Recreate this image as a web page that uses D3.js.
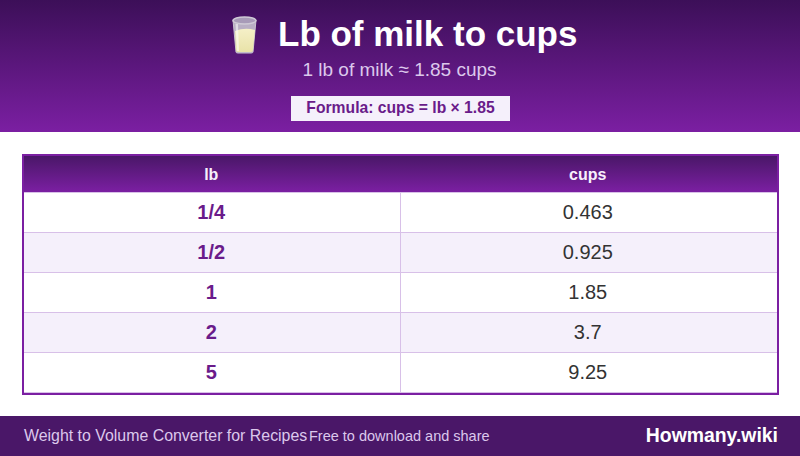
<!DOCTYPE html>
<html>
<head>
<meta charset="utf-8">
<script src="https://cdn.jsdelivr.net/npm/d3@7"></script>
<style>
  html, body { margin: 0; padding: 0; background: #fff; overflow: hidden; }
  svg { display: block; }
  text { font-family: "Liberation Sans", Arial, sans-serif; }
</style>
</head>
<body>
<svg id="chart" width="800" height="456"></svg>
<script>
// Table content
const columns = ['lb', 'cups'];
const lbValues = ['1/4', '1/2', '1', '2', '5'];
const cupValues = ['0.463', '0.925', '1.85', '3.7', '9.25'];

const title = 'Lb of milk to cups';
const subtitle = '1 lb of milk ≈ 1.85 cups';
const formula = 'Formula: cups = lb × 1.85';
const footerLeft = 'Weight to Volume Converter for Recipes';
const footerMid = 'Free to download and share';
const footerRight = 'Howmany.wiki';

const svg = d3.select('#chart');
const defs = svg.append('defs');

function addGradient(id, from, to) {
  const g = defs.append('linearGradient').attr('id', id)
    .attr('x1', 0).attr('y1', 0).attr('x2', 0).attr('y2', 1);
  g.append('stop').attr('offset', '0%').attr('stop-color', from);
  g.append('stop').attr('offset', '100%').attr('stop-color', to);
}
addGradient('headGrad', '#3c0f58', '#7b1fa2');
addGradient('tableGrad', '#4a1768', '#7b1fa2');
addGradient('milkGrad', '#f5f0c8', '#e9e2a8');

// Header band
svg.append('rect').attr('width', 800).attr('height', 132).attr('fill', 'url(#headGrad)');

// Glass of milk (no colour emoji font here)
const glass = svg.append('g');
glass.append('path')
  .attr('d', 'M233 20 L256 20 L253 52 Q253 53 251 53 L238 53 Q236 53 236 52 Z')
  .attr('fill', '#b9afc4').attr('stroke', '#c9c3d0').attr('stroke-width', 1);
glass.append('path')
  .attr('d', 'M235 31 Q245 27 255 30 L253 50 Q253 52 251 52 L238 52 Q236 52 236 50 Z')
  .attr('fill', 'url(#milkGrad)');
glass.append('path')
  .attr('d', 'M235.5 24 L238 24 L239 51 L237 51 Z')
  .attr('fill', '#fff').attr('opacity', 0.55);
glass.append('ellipse').attr('cx', 244.5).attr('cy', 20.5).attr('rx', 11.5).attr('ry', 3.5)
  .attr('fill', '#a89bb8').attr('stroke', '#cfcad6').attr('stroke-width', 1.4);

svg.append('text').attr('x', 278).attr('y', 46)
  .attr('font-size', 35).attr('font-weight', 700).attr('fill', '#fff').text(title);
svg.append('text').attr('x', 399.5).attr('y', 76).attr('text-anchor', 'middle')
  .attr('font-size', 19).attr('fill', '#dcc8ec').text(subtitle);

svg.append('rect').attr('x', 291).attr('y', 96).attr('width', 219).attr('height', 25).attr('fill', '#f5f0fb');
svg.append('text').attr('x', 400.5).attr('y', 113).attr('text-anchor', 'middle')
  .attr('font-size', 15.7).attr('font-weight', 700).attr('fill', '#6a1b8a').text(formula);

// Table
const x = d3.scaleBand().domain(columns).range([23, 776]);
const y = d3.scaleBand().domain(lbValues).range([193, 393]);
const rows = lbValues.map((lb, i) => ({ lb, cups: cupValues[i], i }));

svg.append('rect').attr('x', 24).attr('y', 156).attr('width', 753).attr('height', 36).attr('fill', 'url(#tableGrad)');
svg.append('rect').attr('x', 24).attr('y', 192).attr('width', 753).attr('height', 1).attr('fill', '#d8c0e8');

svg.selectAll('text.head').data(columns).enter().append('text')
  .attr('class', 'head')
  .attr('x', d => x(d) + x.bandwidth() / 2)
  .attr('y', 180)
  .attr('text-anchor', 'middle')
  .attr('font-size', 16).attr('font-weight', 700).attr('fill', '#f8f0fc')
  .text(d => d);

const $rows = svg.selectAll('g.row').data(rows).enter().append('g').attr('class', 'row');
$rows.append('rect')
  .attr('x', 24).attr('y', d => y(d.lb)).attr('width', 753).attr('height', y.bandwidth())
  .attr('fill', d => d.i % 2 ? '#f5f0fb' : '#fff');
$rows.append('rect')
  .attr('x', 24).attr('y', d => y(d.lb) + y.bandwidth() - 1).attr('width', 753).attr('height', 1)
  .attr('fill', '#d8c0e8');
$rows.append('rect')
  .attr('x', 400).attr('y', d => y(d.lb)).attr('width', 1).attr('height', y.bandwidth())
  .attr('fill', '#d8c0e8');
$rows.append('text')
  .attr('x', x('lb') + x.bandwidth() / 2).attr('y', d => y(d.lb) + 26)
  .attr('text-anchor', 'middle')
  .attr('font-size', 20).attr('font-weight', 700).attr('fill', '#6a1b8a')
  .text(d => d.lb);
$rows.append('text')
  .attr('x', x('cups') + x.bandwidth() / 2).attr('y', d => y(d.lb) + 26)
  .attr('text-anchor', 'middle')
  .attr('font-size', 20).attr('fill', '#333')
  .text(d => d.cups);

// Table frame
svg.append('rect').attr('x', 23).attr('y', 155).attr('width', 755).attr('height', 239)
  .attr('fill', 'none').attr('stroke', '#7b1fa2').attr('stroke-width', 2);

// Footer
svg.append('rect').attr('y', 416).attr('width', 800).attr('height', 40).attr('fill', '#4a1768');
svg.append('text').attr('x', 24).attr('y', 441)
  .attr('font-size', 15.9).attr('fill', '#dcc8ec').text(footerLeft);
svg.append('text').attr('x', 309).attr('y', 441)
  .attr('font-size', 14.5).attr('fill', '#dcc8ec').text(footerMid);
svg.append('text').attr('x', 778).attr('y', 442).attr('text-anchor', 'end')
  .attr('font-size', 19.4).attr('font-weight', 700).attr('fill', '#fff').text(footerRight);
</script>
</body>
</html>
